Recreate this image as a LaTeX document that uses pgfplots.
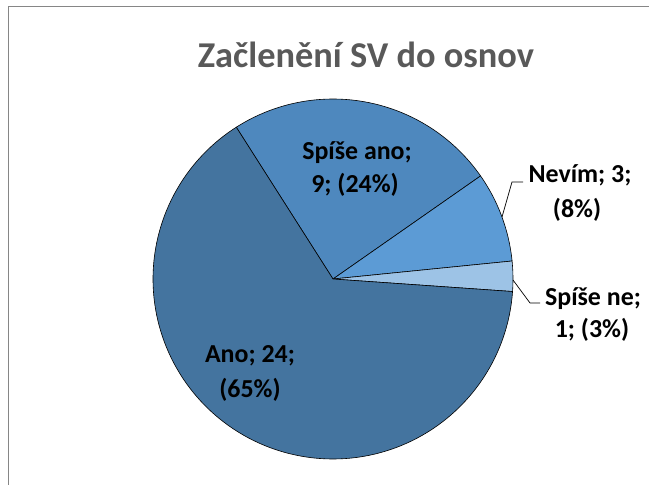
\documentclass[border=0pt]{standalone}
\usepackage{pgfplots}
\usepackage{pgfplotstable}
\pgfplotsset{compat=1.18}
\usepackage{fontspec}
\setmainfont{Carlito}

\definecolor{cAno}{RGB}{68,116,159}
\definecolor{cSpAno}{RGB}{78,136,190}
\definecolor{cNevim}{RGB}{92,155,213}
\definecolor{cSpNe}{RGB}{157,195,230}
\definecolor{titlegray}{RGB}{89,89,89}

\pgfplotstableread{
cat val
Ano 24
SpiseAno 9
Nevim 3
SpiseNe 1
}\piedata

\pgfplotstablegetelem{0}{val}\of\piedata \let\vAno\pgfplotsretval
\pgfplotstablegetelem{1}{val}\of\piedata \let\vSpAno\pgfplotsretval
\pgfplotstablegetelem{2}{val}\of\piedata \let\vNevim\pgfplotsretval
\pgfplotstablegetelem{3}{val}\of\piedata \let\vSpNe\pgfplotsretval
\pgfmathsetmacro\tot{\vAno+\vSpAno+\vNevim+\vSpNe}
\pgfmathsetmacro\aA{122.5}
\pgfmathsetmacro\aB{\aA-360*\vSpAno/\tot}
\pgfmathsetmacro\aC{\aB-360*\vNevim/\tot}
\pgfmathsetmacro\aD{\aC-360*\vSpNe/\tot}
\pgfmathsetmacro\aE{\aD-360*\vAno/\tot}

\begin{document}
\begin{tikzpicture}
\begin{axis}[x=1bp, y=1bp, xmin=0, xmax=649, ymin=0, ymax=485,
  hide axis, scale only axis, clip=false]
% frame
\draw[draw={rgb,255:red,134;green,134;blue,134}, line width=0.9bp] (axis cs:8,-10) -- (axis cs:8,479) -- (axis cs:670,479);
% slices
\addplot[fill=cSpAno, draw=black, line width=0.6bp, domain=\aB:\aA, samples=80, variable=\t]
  ({333+180*cos(t)},{206+180*sin(t)}) -- (axis cs:333,206) -- cycle;
\addplot[fill=cNevim, draw=black, line width=0.6bp, domain=\aC:\aB, samples=40, variable=\t]
  ({333+180*cos(t)},{206+180*sin(t)}) -- (axis cs:333,206) -- cycle;
\addplot[fill=cSpNe, draw=black, line width=0.6bp, domain=\aD:\aC, samples=15, variable=\t]
  ({333+180*cos(t)},{206+180*sin(t)}) -- (axis cs:333,206) -- cycle;
\addplot[fill=cAno, draw=black, line width=0.6bp, domain=\aE:\aD, samples=200, variable=\t]
  ({333+180*cos(t)},{206+180*sin(t)}) -- (axis cs:333,206) -- cycle;
% title
\node[anchor=base, text=titlegray, font=\fontsize{36.5}{42}\selectfont\bfseries] at (axis cs:366,417) {Začlenění SV do osnov};
% labels
\begin{scope}[every node/.style={anchor=base, font=\fontsize{26}{31}\selectfont\bfseries, text=black, inner sep=0pt}]
\node at (axis cs:357,326) {Spíše ano;};
\node at (axis cs:355,293) {9; (24\%)};
\node at (axis cs:580,303) {Nevím; 3;};
\node at (axis cs:577,268) {(8\%)};
\node at (axis cs:593,180) {Spíše ne;};
\node at (axis cs:592,148) {1; (3\%)};
\node at (axis cs:250,123) {Ano; 24;};
\node at (axis cs:250,88) {(65\%)};
\end{scope}
% leader lines
\draw[black, line width=0.7bp] (axis cs:502,268) -- (axis cs:512,303) -- (axis cs:523,303);
\draw[black, line width=0.7bp] (axis cs:513,205) -- (axis cs:530,182) -- (axis cs:540,182);
\end{axis}
\pgfresetboundingbox
\path (0,0) rectangle (649bp,485bp);
\end{tikzpicture}
\end{document}
